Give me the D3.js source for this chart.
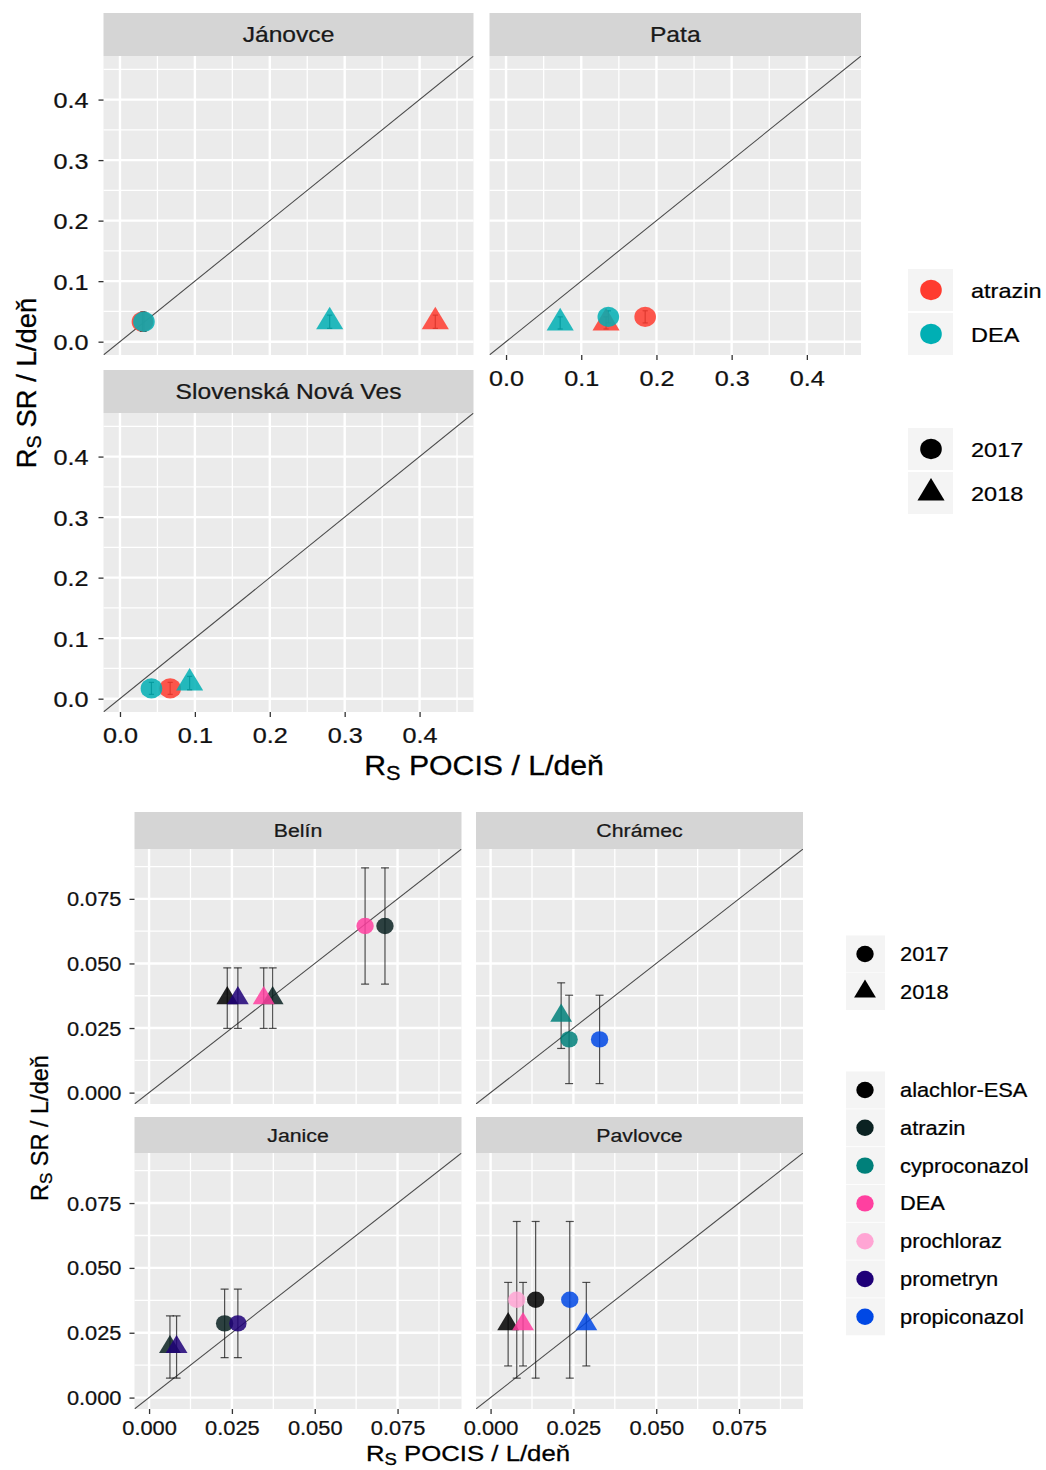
<!DOCTYPE html>
<html>
<head>
<meta charset="utf-8">
<script src="https://cdn.jsdelivr.net/npm/d3@7"></script>
<style>
  body { margin: 0; background: #ffffff; }
  text { font-family: "Liberation Sans", Arial, sans-serif; }
</style>
</head>
<body>
<svg id="fig" width="1046" height="1470"></svg>
<script>
// ---------- upper figure: atrazin / DEA ----------
const topSites = ["Jánovce", "Pata", "Slovenská Nová Ves"];
const topCompounds = ["atrazin", "DEA"];
const topColors = ["#FF3B2F", "#00AFB4"];
const years = ["2017", "2018"];
const topTicks = [0, 0.1, 0.2, 0.3, 0.4];
const topTickLabels = ["0.0", "0.1", "0.2", "0.3", "0.4"];
const topMinor = [0.05, 0.15, 0.25, 0.35, 0.45];

const topPtSite     = ["Jánovce", "Jánovce", "Jánovce", "Jánovce", "Pata", "Pata", "Pata", "Pata", "Slovenská Nová Ves", "Slovenská Nová Ves", "Slovenská Nová Ves"];
const topPtCompound = ["atrazin", "DEA", "atrazin", "DEA", "atrazin", "atrazin", "DEA", "DEA", "atrazin", "DEA", "DEA"];
const topPtYear     = ["2017", "2017", "2018", "2018", "2017", "2018", "2017", "2018", "2017", "2017", "2018"];
const topPtPocis    = [0.030, 0.032, 0.421, 0.280, 0.185, 0.133, 0.136, 0.072, 0.067, 0.042, 0.093];
const topPtSr       = [0.033, 0.033, 0.033, 0.033, 0.041, 0.031, 0.041, 0.031, 0.017, 0.017, 0.026];
const topPtErr      = [0.016, 0.016, 0.011, 0.011, 0.010, 0.010, 0.010, 0.010, 0.010, 0.010, 0.011];

// ---------- lower figure: seven compounds ----------
const botSites = ["Belín", "Chrámec", "Janice", "Pavlovce"];
const botCompounds = ["alachlor-ESA", "atrazin", "cyproconazol", "DEA", "prochloraz", "prometryn", "propiconazol"];
const botColors = ["#000000", "#0B2222", "#00807A", "#FF40A0", "#FFA5D4", "#1F0078", "#0048E5"];
const botTicks = [0, 0.025, 0.05, 0.075];
const botTickLabels = ["0.000", "0.025", "0.050", "0.075"];
const botMinor = [0.0125, 0.0375, 0.0625, 0.0875];

const botPtSite = ["Belín", "Belín", "Belín", "Belín", "Belín", "Belín",
                   "Chrámec", "Chrámec", "Chrámec",
                   "Janice", "Janice", "Janice", "Janice",
                   "Pavlovce", "Pavlovce", "Pavlovce", "Pavlovce", "Pavlovce", "Pavlovce"];
const botPtCompound = ["alachlor-ESA", "atrazin", "atrazin", "DEA", "DEA", "prometryn",
                       "cyproconazol", "cyproconazol", "propiconazol",
                       "atrazin", "atrazin", "prometryn", "prometryn",
                       "alachlor-ESA", "alachlor-ESA", "DEA", "prochloraz", "propiconazol", "propiconazol"];
const botPtYear = ["2018", "2018", "2017", "2018", "2017", "2018",
                   "2017", "2018", "2017",
                   "2017", "2018", "2017", "2018",
                   "2017", "2018", "2018", "2017", "2017", "2018"];
const botPtPocis = [0.0236, 0.0373, 0.0712, 0.0346, 0.0652, 0.0268,
                    0.0237, 0.0213, 0.0329,
                    0.0228, 0.0063, 0.0268, 0.0083,
                    0.0136, 0.0053, 0.0098, 0.0079, 0.0239, 0.0289];
const botPtSr = [0.0366, 0.0366, 0.0645, 0.0366, 0.0645, 0.0366,
                 0.0206, 0.0298, 0.0206,
                 0.0286, 0.0195, 0.0286, 0.0195,
                 0.0377, 0.0283, 0.0283, 0.0377, 0.0377, 0.0283];
const botPtErr = [0.0117, 0.0117, 0.0225, 0.0117, 0.0225, 0.0117,
                  0.0171, 0.0127, 0.0171,
                  0.0132, 0.0120, 0.0132, 0.0120,
                  0.0302, 0.0161, 0.0161, 0.0302, 0.0302, 0.0161];

// ---------- drawing helpers ----------
const SX = 1.12;            // horizontal text widening used throughout the figure
const svg = d3.select("#fig");

function label(parent, x, y, txt, size, anchor) {
  return parent.append("text")
    .attr("transform", `translate(${x},${y}) scale(${SX},1)`)
    .attr("font-size", size)
    .attr("text-anchor", anchor)
    .attr("fill", "#111")
    .attr("stroke", "#111").attr("stroke-width", 0.25)
    .text(txt);
}

function titleWithSub(parent, x, y, rest, size, rotate) {
  const t = parent.append("text")
    .attr("transform", rotate ? `translate(${x},${y}) rotate(-90)` : `translate(${x},${y}) scale(${SX},1)`)
    .attr("font-size", size)
    .attr("text-anchor", "middle")
    .attr("fill", "#000")
    .attr("stroke", "#000").attr("stroke-width", 0.3);
  t.append("tspan").text("R");
  t.append("tspan").attr("font-size", size * 0.72).attr("dy", size * 0.18).text("S");
  t.append("tspan").attr("dy", -size * 0.18).text(" " + rest);
  return t;
}

function trianglePath(R) {
  const r = 1.555 * R, xc = 1.3467 * R, yc = 0.7776 * R;
  return `M0,${-r}L${xc},${yc}L${-xc},${yc}Z`;
}

function drawMarker(g, cx, cy, year, R, fill, opacity) {
  if (year === "2017") {
    g.append("ellipse").attr("cx", cx).attr("cy", cy)
      .attr("rx", R * 1.06).attr("ry", R)
      .attr("fill", fill).attr("fill-opacity", opacity);
  } else {
    g.append("path").attr("d", trianglePath(R * 0.95))
      .attr("transform", `translate(${cx},${cy}) scale(1.04,1)`)
      .attr("fill", fill).attr("fill-opacity", opacity);
  }
}

let clipCount = 0;
function panel(cfg) {
  const x = d3.scaleLinear().domain(cfg.domain).range([cfg.left, cfg.right]);
  const y = d3.scaleLinear().domain(cfg.domain).range([cfg.bottom, cfg.top]);
  const g = svg.append("g");

  // facet strip
  g.append("rect").attr("x", cfg.left).attr("y", cfg.stripTop)
    .attr("width", cfg.right - cfg.left).attr("height", cfg.top - cfg.stripTop)
    .attr("fill", "#D5D5D5");
  label(g, (cfg.left + cfg.right) / 2, (cfg.stripTop + cfg.top) / 2, cfg.title, cfg.stripFont, "middle")
    .attr("dy", "0.36em").attr("fill", "#1a1a1a");

  // panel background + grid
  g.append("rect").attr("x", cfg.left).attr("y", cfg.top)
    .attr("width", cfg.right - cfg.left).attr("height", cfg.bottom - cfg.top)
    .attr("fill", "#EBEBEB");
  const grid = g.append("g").attr("stroke", "#ffffff");
  cfg.minor.forEach(v => {
    if (v > cfg.domain[1]) return;
    grid.append("line").attr("x1", x(v)).attr("x2", x(v)).attr("y1", cfg.top).attr("y2", cfg.bottom).attr("stroke-width", 1.3);
    grid.append("line").attr("y1", y(v)).attr("y2", y(v)).attr("x1", cfg.left).attr("x2", cfg.right).attr("stroke-width", 1.3);
  });
  cfg.ticks.forEach(v => {
    grid.append("line").attr("x1", x(v)).attr("x2", x(v)).attr("y1", cfg.top).attr("y2", cfg.bottom).attr("stroke-width", 2.4);
    grid.append("line").attr("y1", y(v)).attr("y2", y(v)).attr("x1", cfg.left).attr("x2", cfg.right).attr("stroke-width", 2.4);
  });

  const id = "clip" + (clipCount++);
  svg.append("clipPath").attr("id", id).append("rect")
    .attr("x", cfg.left).attr("y", cfg.top)
    .attr("width", cfg.right - cfg.left).attr("height", cfg.bottom - cfg.top);
  const plot = g.append("g").attr("clip-path", `url(#${id})`);

  // 1:1 reference line
  plot.append("line")
    .attr("x1", x(cfg.domain[0])).attr("y1", y(cfg.domain[0]))
    .attr("x2", x(cfg.domain[1])).attr("y2", y(cfg.domain[1]))
    .attr("stroke", "#4a4a4a").attr("stroke-width", 1.05);

  // error bars
  const eb = plot.append("g").attr("stroke", "#1a1a1a").attr("stroke-opacity", cfg.barOpacity).attr("stroke-width", 1.2);
  cfg.pts.forEach(p => {
    const px = x(p.pocis), y1 = y(p.sr - p.err), y2 = y(p.sr + p.err);
    eb.append("line").attr("x1", px).attr("x2", px).attr("y1", y1).attr("y2", y2);
    eb.append("line").attr("x1", px - cfg.cap).attr("x2", px + cfg.cap).attr("y1", y1).attr("y2", y1);
    eb.append("line").attr("x1", px - cfg.cap).attr("x2", px + cfg.cap).attr("y1", y2).attr("y2", y2);
  });

  // points
  cfg.pts.forEach(p => drawMarker(plot, x(p.pocis), y(p.sr), p.year, cfg.R, cfg.color(p.compound), 0.85));

  // axes
  if (cfg.yAxis) {
    const ax = g.append("g").attr("transform", `translate(${cfg.left},0)`)
      .call(d3.axisLeft(y).tickValues(cfg.ticks).tickSize(5).tickFormat((d, i) => cfg.tickLabels[i]));
    ax.select(".domain").remove();
    ax.selectAll(".tick line").attr("stroke", "#333").attr("stroke-width", 1.3);
    ax.selectAll(".tick text").attr("x", null).attr("dy", "0.36em")
      .attr("transform", `translate(${-cfg.yLabelGap},0) scale(${SX},1)`)
      .attr("font-size", cfg.tickFont).attr("font-family", null).attr("fill", "#111")
      .attr("stroke", "#111").attr("stroke-width", 0.25);
  }
  if (cfg.xAxis) {
    const ax = g.append("g").attr("transform", `translate(0,${cfg.bottom})`)
      .call(d3.axisBottom(x).tickValues(cfg.ticks).tickSize(5).tickFormat((d, i) => cfg.tickLabels[i]));
    ax.select(".domain").remove();
    ax.selectAll(".tick line").attr("stroke", "#333").attr("stroke-width", 1.3);
    ax.selectAll(".tick text").attr("y", null).attr("dy", "0.36em")
      .attr("transform", `translate(0,${cfg.xLabelGap}) scale(${SX},1)`)
      .attr("font-size", cfg.tickFont).attr("font-family", null).attr("fill", "#111")
      .attr("stroke", "#111").attr("stroke-width", 0.25);
  }
}

// ---------- upper figure ----------
const topColor = d3.scaleOrdinal().domain(topCompounds).range(topColors);
const topPts = topPtSite.map((s, i) => ({
  site: s, compound: topPtCompound[i], year: topPtYear[i],
  pocis: topPtPocis[i], sr: topPtSr[i], err: topPtErr[i]
}));
const topLayout = [
  { left: 103.5, right: 473.5, stripTop: 13, top: 56, bottom: 355, yAxis: true, xAxis: false },
  { left: 489.5, right: 861, stripTop: 13, top: 56, bottom: 355, yAxis: false, xAxis: true },
  { left: 103.5, right: 473.5, stripTop: 370, top: 413, bottom: 712, yAxis: true, xAxis: true }
];
topSites.forEach((site, i) => panel(Object.assign({}, topLayout[i], {
  title: site, domain: [-0.022, 0.472], ticks: topTicks, tickLabels: topTickLabels, minor: topMinor,
  pts: topPts.filter(p => p.site === site), color: topColor, R: 10.2,
  cap: 2.6, barOpacity: 0.9, stripFont: 22, tickFont: 22.5, yLabelGap: 15, xLabelGap: 23
})));

titleWithSub(svg, 484, 775, "POCIS / L/deň", 27, false);
titleWithSub(svg, 36, 383, "SR / L/deň", 27.5, true);

// upper legends
const legTop = svg.append("g");
topCompounds.forEach((c, i) => {
  const cy = 290 + i * 44;
  legTop.append("rect").attr("x", 908).attr("y", cy - 21).attr("width", 45).attr("height", 42).attr("fill", "#F4F4F4");
  legTop.append("ellipse").attr("cx", 931).attr("cy", cy).attr("rx", 10.8).attr("ry", 10.2).attr("fill", topColors[i]);
  label(legTop, 971, cy, c, 21, "start").attr("dy", "0.36em").attr("fill", "#000");
});
years.forEach((yr, i) => {
  const cy = 449 + i * 44;
  legTop.append("rect").attr("x", 908).attr("y", cy - 21).attr("width", 45).attr("height", 42).attr("fill", "#F4F4F4");
  drawMarker(legTop, 931, cy, yr, 10.2, "#000", 1);
  label(legTop, 971, cy, yr, 21, "start").attr("dy", "0.36em").attr("fill", "#000");
});

// ---------- lower figure ----------
const botColor = d3.scaleOrdinal().domain(botCompounds).range(botColors);
const botPts = botPtSite.map((s, i) => ({
  site: s, compound: botPtCompound[i], year: botPtYear[i],
  pocis: botPtPocis[i], sr: botPtSr[i], err: botPtErr[i]
}));
const botLayout = [
  { left: 134.5, right: 461.5, stripTop: 812, top: 849, bottom: 1104, yAxis: true, xAxis: false },
  { left: 476, right: 803, stripTop: 812, top: 849, bottom: 1104, yAxis: false, xAxis: false },
  { left: 134.5, right: 461.5, stripTop: 1117, top: 1153, bottom: 1409, yAxis: true, xAxis: true },
  { left: 476, right: 803, stripTop: 1117, top: 1153, bottom: 1409, yAxis: false, xAxis: true }
];
botSites.forEach((site, i) => panel(Object.assign({}, botLayout[i], {
  title: site, domain: [-0.0044, 0.0943], ticks: botTicks, tickLabels: botTickLabels, minor: botMinor,
  pts: botPts.filter(p => p.site === site), color: botColor, R: 8.2,
  cap: 4, barOpacity: 0.75, stripFont: 19, tickFont: 19.5, yLabelGap: 13, xLabelGap: 19
})));

titleWithSub(svg, 468, 1461, "POCIS / L/deň", 23, false);
titleWithSub(svg, 48, 1128, "SR / L/deň", 23.5, true);

// lower legends
const legBot = svg.append("g");
years.forEach((yr, i) => {
  const cy = 954 + i * 37.5;
  legBot.append("rect").attr("x", 846).attr("y", cy - 18.5).attr("width", 39).attr("height", 37).attr("fill", "#F4F4F4");
  drawMarker(legBot, 865, cy, yr, 8.2, "#000", 1);
  label(legBot, 900, cy, yr, 19.5, "start").attr("dy", "0.36em").attr("fill", "#000");
});
botCompounds.forEach((c, i) => {
  const cy = 1090 + i * 37.8;
  legBot.append("rect").attr("x", 846).attr("y", cy - 18.5).attr("width", 39).attr("height", 37).attr("fill", "#F4F4F4");
  legBot.append("ellipse").attr("cx", 865).attr("cy", cy).attr("rx", 8.7).attr("ry", 8.2).attr("fill", botColors[i]);
  label(legBot, 900, cy, c, 19.5, "start").attr("dy", "0.36em").attr("fill", "#000");
});
</script>
</body>
</html>
